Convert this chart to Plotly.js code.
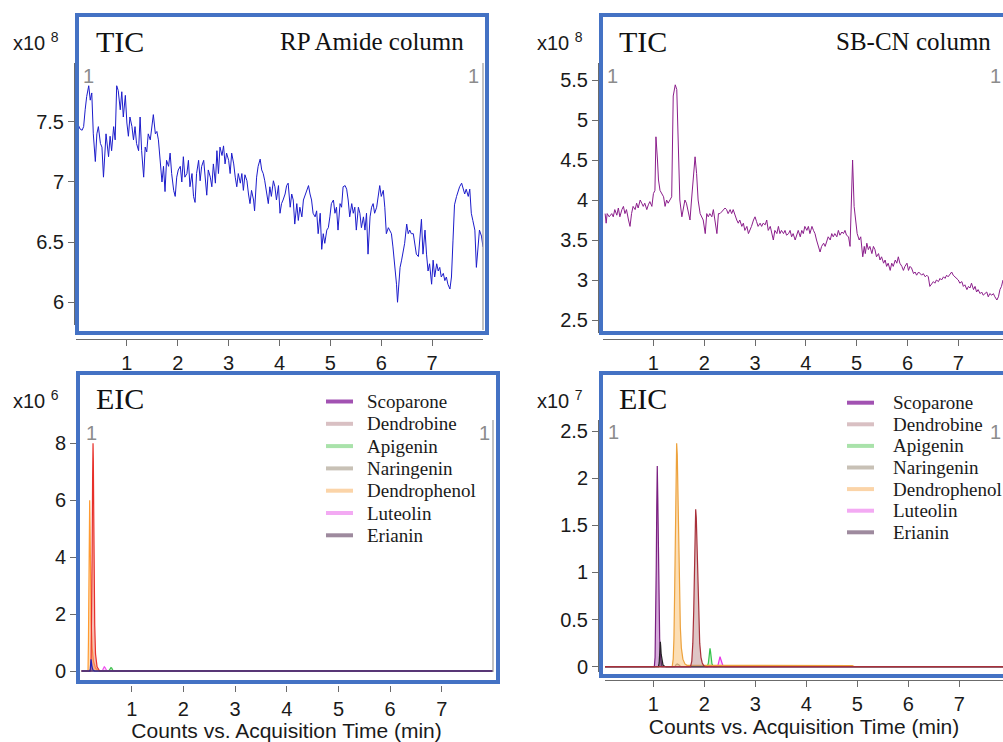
<!DOCTYPE html>
<html><head><meta charset="utf-8">
<script src="https://cdn.plot.ly/plotly-3.0.1.min.js"></script>
<style>html,body{margin:0;padding:0;background:#fff}#chart{width:1003px;height:742px}</style>
</head><body><div id="chart"></div>
<script>
// ---------- TIC, RP Amide column (x10^8 counts) ----------
const timeTL = [
0.05,0.08,0.12,0.15,0.18,0.21,0.25,0.28,0.31,0.34,
0.38,0.41,0.44,0.48,0.51,0.54,0.59,0.64,0.67,0.70,
0.74,0.77,0.80,0.83,0.87,0.90,0.93,0.97,1.00,1.03,
1.06,1.10,1.13,1.16,1.19,1.23,1.26,1.29,1.33,1.36,
1.39,1.42,1.46,1.49,1.52,1.56,1.59,1.62,1.65,1.69,
1.72,1.75,1.78,1.82,1.85,1.88,1.92,1.95,1.98,2.01,
2.05,2.08,2.11,2.14,2.18,2.21,2.24,2.28,2.31,2.34,
2.37,2.41,2.44,2.47,2.51,2.54,2.57,2.60,2.64,2.67,
2.70,2.74,2.77,2.80,2.83,2.87,2.90,2.93,2.96,3.00,
3.03,3.06,3.10,3.13,3.16,3.19,3.23,3.26,3.29,3.32,
3.36,3.39,3.42,3.45,3.49,3.51,3.55,3.58,3.62,3.65,
3.68,3.71,3.75,3.78,3.81,3.84,3.88,3.91,3.94,3.98,
4.01,4.04,4.07,4.11,4.14,4.17,4.21,4.24,4.27,4.30,
4.34,4.37,4.40,4.44,4.47,4.50,4.53,4.57,4.60,4.63,
4.66,4.70,4.73,4.76,4.80,4.83,4.86,4.89,4.93,4.96,
4.99,5.02,5.06,5.09,5.12,5.15,5.19,5.22,5.25,5.29,
5.32,5.35,5.38,5.42,5.45,5.48,5.51,5.55,5.58,5.61,
5.65,5.68,5.71,5.74,5.78,5.81,5.84,5.87,5.91,5.94,
5.97,6.00,6.04,6.07,6.10,6.14,6.17,6.20,6.23,6.27,
6.30,6.32,6.37,6.40,6.43,6.46,6.50,6.53,6.56,6.59,
6.63,6.66,6.69,6.73,6.76,6.79,6.82,6.86,6.89,6.92,
6.95,6.99,7.02,7.05,7.09,7.12,7.15,7.18,7.22,7.25,
7.28,7.31,7.35,7.38,7.41,7.44,7.48,7.51,7.54,7.58,
7.61,7.64,7.67,7.71,7.74,7.77,7.80,7.84,7.87,7.90,
7.93,7.97,8.00];
const ticTL = [
7.47,7.44,7.43,7.46,7.60,7.71,7.80,7.68,7.74,7.40,
7.17,7.40,7.46,7.32,7.29,7.04,7.40,7.21,7.38,7.26,
7.46,7.35,7.80,7.76,7.60,7.75,7.54,7.72,7.49,7.38,
7.54,7.46,7.35,7.46,7.32,7.26,7.54,7.26,7.04,7.29,
7.25,7.40,7.35,7.46,7.56,7.40,7.42,7.35,7.21,7.00,
7.13,6.92,7.18,7.13,7.24,7.07,6.93,6.88,7.04,7.10,
7.13,7.00,7.21,7.04,7.07,7.18,6.96,7.07,6.88,6.83,
7.07,7.18,7.01,7.13,7.18,7.04,6.89,7.10,7.04,6.96,
7.15,6.99,7.26,7.07,7.29,7.22,7.30,7.15,7.24,7.18,
7.07,7.24,7.15,7.04,6.96,7.07,6.99,7.07,6.93,7.06,
7.01,6.90,6.82,6.93,6.85,6.76,7.04,7.13,7.19,7.10,
7.07,7.01,6.90,6.82,6.96,6.88,7.01,6.96,6.85,6.97,
6.74,6.82,6.85,6.90,6.97,6.99,6.79,6.90,6.85,6.65,
6.82,6.68,6.79,6.71,6.85,6.89,6.93,6.97,6.90,6.85,
6.74,6.71,6.76,6.57,6.74,6.44,6.57,6.49,6.60,6.62,
6.71,6.82,6.85,6.74,6.79,6.60,6.82,6.79,6.96,6.97,
6.94,6.85,6.71,6.82,6.74,6.79,6.60,6.79,6.74,6.62,
6.71,6.60,6.74,6.40,6.71,6.79,6.82,6.74,6.79,6.90,
6.97,6.88,6.93,6.79,6.57,6.62,6.60,6.57,6.46,6.29,
6.15,6.00,6.29,6.35,6.43,6.49,6.65,6.57,6.60,6.57,
6.57,6.49,6.40,6.38,6.51,6.69,6.40,6.60,6.40,6.26,
6.32,6.15,6.35,6.21,6.32,6.26,6.29,6.21,6.24,6.18,
6.21,6.15,6.11,6.21,6.51,6.81,6.88,6.92,6.96,6.99,
6.93,6.90,6.94,6.88,6.94,6.74,6.68,6.60,6.29,6.49,
6.60,6.55,6.46];

// ---------- TIC, SB-CN column (x10^8 counts) ----------
const timeTR = [
0.05,0.07,0.09,0.13,0.18,0.21,0.24,0.28,0.31,0.34,
0.38,0.41,0.44,0.47,0.51,0.54,0.57,0.60,0.64,0.67,
0.70,0.74,0.77,0.80,0.83,0.87,0.90,0.93,0.97,1.00,
1.03,1.05,1.08,1.10,1.13,1.16,1.20,1.23,1.26,1.29,
1.33,1.36,1.39,1.43,1.46,1.49,1.52,1.56,1.59,1.62,
1.65,1.69,1.72,1.75,1.79,1.82,1.85,1.88,1.92,1.95,
1.98,2.02,2.05,2.08,2.11,2.15,2.18,2.21,2.25,2.28,
2.31,2.34,2.38,2.41,2.44,2.47,2.51,2.54,2.57,2.61,
2.64,2.67,2.70,2.74,2.77,2.80,2.84,2.87,2.90,2.93,
2.97,3.00,3.03,3.06,3.10,3.13,3.16,3.20,3.23,3.26,
3.30,3.33,3.36,3.39,3.43,3.46,3.49,3.52,3.56,3.59,
3.62,3.66,3.69,3.72,3.75,3.79,3.82,3.85,3.89,3.92,
3.95,3.98,4.02,4.05,4.08,4.12,4.15,4.18,4.21,4.25,
4.28,4.31,4.35,4.38,4.41,4.44,4.48,4.51,4.54,4.57,
4.61,4.64,4.67,4.71,4.74,4.77,4.80,4.84,4.87,4.90,
4.92,4.95,4.99,5.01,5.05,5.08,5.12,5.15,5.17,5.20,
5.23,5.26,5.30,5.33,5.36,5.39,5.43,5.46,5.49,5.53,
5.56,5.59,5.62,5.66,5.69,5.72,5.76,5.79,5.82,5.85,
5.89,5.92,5.95,5.99,6.02,6.05,6.08,6.12,6.15,6.18,
6.22,6.25,6.28,6.31,6.35,6.38,6.41,6.44,6.48,6.51,
6.54,6.57,6.61,6.64,6.67,6.71,6.74,6.77,6.80,6.84,
6.87,6.90,6.94,6.97,7.00,7.03,7.07,7.10,7.13,7.17,
7.20,7.23,7.26,7.30,7.33,7.36,7.39,7.43,7.46,7.49,
7.53,7.56,7.59,7.62,7.66,7.69,7.72,7.76,7.79,7.82,
7.85,7.88];
const ticTR = [
3.83,3.71,3.83,3.79,3.83,3.79,3.88,3.81,3.90,3.79,
3.88,3.92,3.83,3.88,3.75,3.67,3.83,3.92,3.88,3.96,
3.90,4.00,3.96,3.92,3.96,3.88,3.94,3.98,3.92,4.08,
4.12,4.79,4.50,4.25,4.12,4.08,4.04,3.92,4.00,3.96,
4.00,4.04,5.30,5.44,5.38,4.62,4.00,3.79,3.92,4.00,
3.96,3.83,3.75,4.00,4.33,4.54,4.33,4.00,3.83,3.79,
3.75,3.58,3.83,3.79,3.83,3.79,3.88,3.75,3.58,3.83,
3.83,3.85,3.88,3.90,3.88,3.83,3.88,3.83,3.88,3.79,
3.75,3.71,3.75,3.67,3.71,3.62,3.67,3.58,3.62,3.67,
3.75,3.79,3.73,3.67,3.71,3.67,3.71,3.69,3.75,3.62,
3.67,3.60,3.50,3.62,3.58,3.67,3.58,3.62,3.58,3.62,
3.56,3.58,3.62,3.54,3.58,3.50,3.58,3.62,3.54,3.62,
3.58,3.67,3.62,3.67,3.58,3.67,3.62,3.58,3.50,3.42,
3.35,3.42,3.46,3.42,3.50,3.54,3.50,3.58,3.54,3.58,
3.54,3.62,3.56,3.60,3.58,3.62,3.56,3.54,3.42,4.12,
4.50,3.92,3.67,3.58,3.50,3.54,3.29,3.42,3.33,3.46,
3.38,3.42,3.33,3.42,3.38,3.29,3.33,3.25,3.29,3.21,
3.25,3.17,3.21,3.12,3.21,3.17,3.25,3.21,3.29,3.21,
3.17,3.12,3.17,3.21,3.12,3.17,3.15,3.08,3.10,3.06,
3.10,3.08,3.06,3.08,3.04,3.06,3.04,2.92,2.96,2.98,
2.96,3.00,2.98,3.02,3.00,3.04,3.02,3.06,3.04,3.08,
3.10,3.06,3.04,3.02,3.00,2.96,2.98,2.92,2.94,2.88,
2.92,2.90,2.96,2.88,2.92,2.85,2.88,2.83,2.85,2.81,
2.83,2.85,2.79,2.83,2.81,2.83,2.79,2.75,2.79,2.88,
2.92,3.00];

// ---------- EIC compounds ----------
const compounds = ['Scoparone','Dendrobine','Apigenin','Naringenin','Dendrophenol','Luteolin','Erianin'];

// EIC, RP Amide column (x10^6 counts)
const timeL = {
  Scoparone:   [0.03,0.19,0.200,0.207,0.213,0.220,0.232,0.250,0.28,7.99],
  Dendrobine:  [0.03,0.205,0.215,0.225,0.235,0.244,0.252,0.258,0.266,0.275,0.285,0.30,0.33,0.38,7.99],
  Apigenin:    [0.03,0.55,0.57,0.585,0.60,0.615,0.63,0.66,7.99],
  Naringenin:  [0.03,7.99],
  Dendrophenol:[0.03,0.155,0.163,0.170,0.178,0.187,0.195,0.205,0.215,0.235,0.26,0.30,0.36,7.99],
  Luteolin:    [0.03,0.42,0.44,0.455,0.47,0.485,0.50,0.52,7.99],
  Erianin:     [0.03,7.99]
};
const eicL = {
  Scoparone:   [0,0,0.10,0.30,0.41,0.33,0.15,0.04,0,0],
  Dendrobine:  [0,0,0.5,1.8,4.2,6.8,8.0,7.4,5.5,3.2,1.6,0.6,0.15,0,0],
  Apigenin:    [0,0,0.04,0.10,0.12,0.10,0.04,0,0],
  Naringenin:  [0,0],
  Dendrophenol:[0,0,1.0,3.0,5.2,6.0,5.0,3.2,1.8,0.8,0.35,0.1,0,0],
  Luteolin:    [0,0,0.04,0.12,0.15,0.12,0.04,0,0],
  Erianin:     [0,0]
};
// EIC, SB-CN column (x10^7 counts)
const timeR = {
  Scoparone:   [0.05,1.02,1.035,1.048,1.058,1.068,1.078,1.088,1.098,1.11,1.125,1.145,1.17,7.88],
  Erianin:     [0.05,1.10,1.115,1.125,1.132,1.138,1.145,1.155,1.17,1.19,1.22,1.25,7.88],
  Dendrophenol:[0.05,1.37,1.39,1.405,1.42,1.432,1.445,1.458,1.47,1.483,1.497,1.512,1.53,1.55,1.58,1.62,1.66,4.90,4.95,7.88],
  Naringenin:  [0.05,1.42,1.45,1.47,1.50,1.54,7.88],
  Dendrobine:  [0.05,1.73,1.755,1.775,1.793,1.808,1.82,1.831,1.843,1.857,1.873,1.89,1.91,1.935,1.96,1.99,2.03,7.88],
  Apigenin:    [0.05,2.06,2.08,2.095,2.105,2.112,2.122,2.135,2.15,2.18,7.88],
  Luteolin:    [0.05,2.25,2.27,2.285,2.30,2.308,2.32,2.335,2.36,2.40,7.88]
};
const eicR = {
  Scoparone:   [0,0,0.1,0.45,1.05,1.7,2.13,1.8,1.2,0.65,0.3,0.08,0,0],
  Erianin:     [0,0,0.04,0.12,0.21,0.265,0.22,0.13,0.06,0.02,0.005,0,0],
  Dendrophenol:[0,0,0.08,0.3,0.85,1.55,2.15,2.37,2.25,1.85,1.3,0.8,0.42,0.2,0.08,0.03,0.015,0.012,0,0],
  Naringenin:  [0,0,0.025,0.03,0.02,0,0],
  Dendrobine:  [0,0,0.06,0.25,0.6,1.1,1.5,1.67,1.58,1.28,0.88,0.5,0.25,0.1,0.04,0.01,0,0],
  Apigenin:    [0,0,0.04,0.12,0.18,0.195,0.16,0.08,0.03,0,0],
  Luteolin:    [0,0,0.02,0.06,0.1,0.106,0.085,0.05,0.02,0,0]
};

const xTicks = [1,2,3,4,5,6,7];

// ---------- styling ----------
const W = 1003, H = 742;
const px = x => x / W, py = y => 1 - y / H;
const SANS = 'Liberation Sans, Arial, sans-serif';
const SERIF = 'Liberation Serif, Times New Roman, serif';
const BLUE = '#4472C4';

const legendColors = {Scoparone:'#A252B2',Dendrobine:'#D9C0C3',Apigenin:'#A9E2AA',Naringenin:'#C8C1B6',
  Dendrophenol:'#FBD4A8',Luteolin:'#F3AAF3',Erianin:'#9E8A9E'};
const lineL = {Scoparone:'#2424B8',Dendrobine:'#E8302A',Apigenin:'#3CBF4C',Naringenin:'#A09080',
  Dendrophenol:'#FF9A30',Luteolin:'#EE55EE',Erianin:'#2E2A6A'};
const fillL = {Scoparone:'rgba(60,60,200,0.35)',Dendrobine:'rgba(240,110,90,0.45)',Apigenin:'rgba(120,210,120,0.3)',
  Naringenin:'rgba(0,0,0,0)',Dendrophenol:'rgba(255,190,110,0.5)',Luteolin:'rgba(240,130,240,0.3)',Erianin:'rgba(0,0,0,0)'};
const lineR = {Scoparone:'#7A1F80',Dendrobine:'#A8303A',Apigenin:'#33C24A',Naringenin:'#8F8272',
  Dendrophenol:'#EDA23C',Luteolin:'#E632E6',Erianin:'#262026'};
const fillR = {Scoparone:'rgba(165,70,175,0.45)',Dendrobine:'rgba(190,140,140,0.5)',Apigenin:'rgba(120,220,120,0.35)',
  Naringenin:'rgba(180,170,160,0.4)',Dendrophenol:'rgba(250,195,120,0.55)',Luteolin:'rgba(240,120,240,0.3)',Erianin:'rgba(70,55,70,0.5)'};

const traces = [];
traces.push({x: timeTL, y: ticTL, xaxis:'x', yaxis:'y', type:'scatter', mode:'lines',
  line:{color:'#1C1CCB', width:1}, name:'TIC RP Amide', showlegend:false, hoverinfo:'skip'});
traces.push({x: timeTR, y: ticTR, xaxis:'x2', yaxis:'y2', type:'scatter', mode:'lines',
  line:{color:'#8B1E8B', width:1}, name:'TIC SB-CN', showlegend:false, hoverinfo:'skip'});

const orderL = ['Naringenin','Apigenin','Luteolin','Dendrophenol','Dendrobine','Scoparone','Erianin'];
orderL.forEach(c => traces.push({x: timeL[c], y: eicL[c], xaxis:'x3', yaxis:'y3', type:'scatter', mode:'lines',
  fill:'tozeroy', fillcolor: fillL[c], line:{color: lineL[c], width:1.2},
  name:c, showlegend:false, hoverinfo:'skip'}));
const orderR = ['Naringenin','Apigenin','Luteolin','Dendrophenol','Scoparone','Erianin','Dendrobine'];
orderR.forEach(c => traces.push({x: timeR[c], y: eicR[c], xaxis:'x4', yaxis:'y4', type:'scatter', mode:'lines',
  fill:'tozeroy', fillcolor: fillR[c], line:{color: lineR[c], width:1.2},
  name:c, showlegend:false, hoverinfo:'skip'}));

const axBase = {showgrid:false, zeroline:false, showline:true, linecolor:'#6b6b6b', linewidth:1,
  ticks:'outside', ticklen:6, tickcolor:'#6b6b6b', tickwidth:1,
  tickfont:{family:SANS, size:20, color:'#1a1a1a'}, anchor:'free', fixedrange:true};
const xTitle = {text:'Counts vs. Acquisition Time (min)', font:{family:SANS, size:21, color:'#1a1a1a'}, standoff:4};

const layout = {
  width: W, height: H, margin:{l:0, r:0, t:0, b:0}, paper_bgcolor:'#fff', plot_bgcolor:'rgba(0,0,0,0)',
  showlegend:false,
  xaxis: Object.assign({}, axBase, {domain:[px(76), px(483)], range:[0, 8.0], position:py(339), tickvals:xTicks}),
  yaxis: Object.assign({}, axBase, {domain:[py(325), py(63)], range:[5.811, 7.989], position:px(74),
    tickvals:[6,6.5,7,7.5], ticktext:['6','6.5','7','7.5']}),
  xaxis2: Object.assign({}, axBase, {domain:[px(603), 1], range:[0.008, 7.88], position:py(339), tickvals:xTicks}),
  yaxis2: Object.assign({}, axBase, {domain:[py(333), py(63)], range:[2.3375, 5.7125], position:px(598),
    tickvals:[2.5,3,3.5,4,4.5,5,5.5], ticktext:['2.5','3','3.5','4','4.5','5','5.5']}),
  xaxis3: Object.assign({}, axBase, {domain:[px(80), px(493)], range:[0, 7.99], position:py(685), showline:false,
    tickvals:xTicks, title:xTitle}),
  yaxis3: Object.assign({}, axBase, {domain:[py(680), py(420)], range:[-0.316, 8.82], position:px(76),
    tickvals:[0,2,4,6,8]}),
  xaxis4: Object.assign({}, axBase, {domain:[px(605), 1], range:[0.053, 7.857], position:py(680), tickvals:xTicks, title:xTitle}),
  yaxis4: Object.assign({}, axBase, {domain:[py(672), py(420)], range:[-0.056, 2.617], position:px(598),
    tickvals:[0,0.5,1,1.5,2,2.5], ticktext:['0','0.5','1','1.5','2','2.5']}),
  shapes: [],
  annotations: []
};

// panel frames
const frames = [[77,15,487,333],[601,15,1060,333],[78,373,498,682],[601,373,1060,676]];
frames.forEach(f => layout.shapes.push({type:'rect', xref:'paper', yref:'paper', x0:px(f[0]), x1:px(f[2]),
  y0:py(f[3]), y1:py(f[1]), line:{color:BLUE, width:4}, fillcolor:'rgba(0,0,0,0)'}));
// right-hand grey trace bounds
[[483,63,330],[493,420,672]].forEach(s => layout.shapes.push({type:'line', xref:'paper', yref:'paper',
  x0:px(s[0]), x1:px(s[0]), y0:py(s[2]), y1:py(s[1]), line:{color:'#9a9a9a', width:1.2}}));

function ann(text, x, y, font, xanchor) {
  layout.annotations.push({text, x:px(x), y:py(y), xref:'paper', yref:'paper', showarrow:false,
    xanchor: xanchor || 'left', yanchor:'middle', font});
}
const sup = {family:SANS, size:20, color:'#1a1a1a'};
ann('x10 <sup>8</sup>', 11, 41, sup);
ann('x10 <sup>8</sup>', 535, 41, sup);
ann('x10 <sup>6</sup>', 11, 399, sup);
ann('x10 <sup>7</sup>', 535, 399, sup);
const big = {family:SERIF, size:30, color:'#111'};
ann('TIC', 94, 42, big);
ann('TIC', 617, 42, big);
ann('EIC', 94, 398, big);
ann('EIC', 617, 398, big);
ann('RP Amide column', 466, 41, {family:SERIF, size:25, color:'#111'}, 'right');
ann('SB-CN column', 834, 41, {family:SERIF, size:25, color:'#111'});
const grey = {family:SANS, size:20, color:'#8c8c8c'};
[[88,76],[473,76],[612,76],[91,433],[484,433],[613,432]].forEach(p => ann('1', p[0], p[1], grey, 'center'));
[[1003,76],[1003,432]].forEach(p => ann('1', p[0], p[1], grey, 'right'));

// legends
function legend(x0, x1, xt, y0, dy) {
  compounds.forEach((c, i) => {
    const y = y0 + dy * i;
    layout.shapes.push({type:'line', xref:'paper', yref:'paper', x0:px(x0), x1:px(x1), y0:py(y), y1:py(y),
      line:{color:legendColors[c], width:4}});
    ann(c, xt, y, {family:SERIF, size:19, color:'#1a1a1a'});
  });
}
legend(326, 353, 365, 401.5, 22.3);
legend(847, 874, 891, 402.7, 21.6);

Plotly.newPlot('chart', traces, layout, {displayModeBar:false, staticPlot:true});
</script></body></html>
